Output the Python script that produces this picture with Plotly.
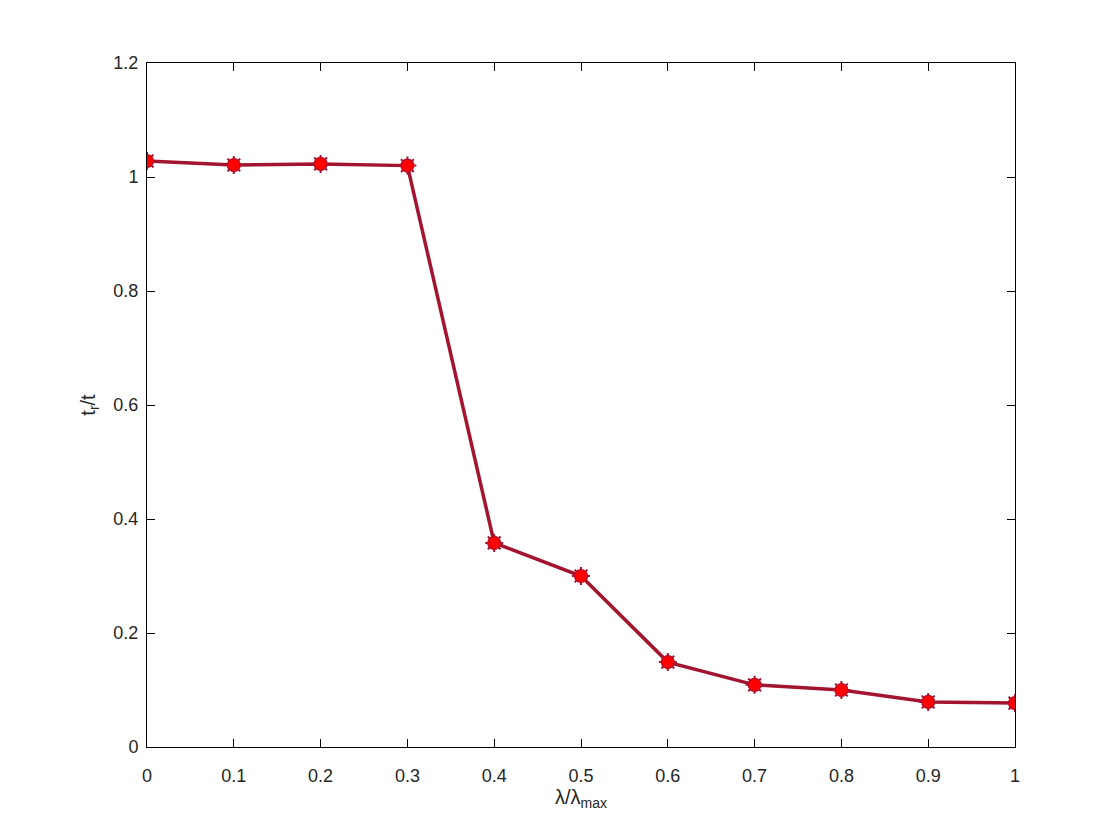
import plotly.graph_objects as go

lam_ratio = [0, 0.1, 0.2, 0.3, 0.4, 0.5, 0.6, 0.7, 0.8, 0.9, 1.0]
tr_ratio = [1.028, 1.021, 1.023, 1.020, 0.358, 0.300, 0.149, 0.109, 0.100, 0.079, 0.077]

x_ticks = [0, 0.1, 0.2, 0.3, 0.4, 0.5, 0.6, 0.7, 0.8, 0.9, 1]
x_labels = ['0', '0.1', '0.2', '0.3', '0.4', '0.5', '0.6', '0.7', '0.8', '0.9', '1']
y_ticks = [0, 0.2, 0.4, 0.6, 0.8, 1.0, 1.2]
y_labels = ['0', '0.2', '0.4', '0.6', '0.8', '1', '1.2']

FONT = 'Liberation Sans, Arial, Helvetica, sans-serif'

fig = go.Figure()
fig.add_trace(go.Scatter(
    x=lam_ratio, y=tr_ratio, mode='lines+markers',
    line=dict(color='#A2142F', width=3.5),
    marker=dict(symbol='asterisk-open', size=15, color='#A2142F',
                line=dict(color='#A2142F', width=2)),
    showlegend=False,
))
fig.add_trace(go.Scatter(
    x=lam_ratio, y=tr_ratio, mode='markers',
    marker=dict(symbol='circle', size=13, color='#FF0000',
                line=dict(color='#B0102A', width=1.2)),
    showlegend=False,
))

axis_common = dict(
    showline=True, linecolor='black', linewidth=1, mirror='ticks',
    ticks='inside', ticklen=8, tickcolor='black',
    showgrid=False, zeroline=False,
    tickfont=dict(family=FONT, size=18, color='#262626'),
)

fig.update_xaxes(range=[0, 1], tickvals=x_ticks, ticktext=x_labels,
                 ticklabelstandoff=12,
                 title=dict(text='λ/λ<sub>max</sub>', standoff=2,
                            font=dict(family=FONT, size=20, color='#262626')),
                 **axis_common)
fig.update_yaxes(range=[0, 1.2], tickvals=y_ticks, ticktext=y_labels,
                 ticklabelstandoff=4,
                 title=dict(text='t<sub>r</sub>/t', standoff=12,
                            font=dict(family=FONT, size=20, color='#262626')),
                 **axis_common)

fig.update_layout(
    width=1120, height=840,
    margin=dict(l=139, r=113, t=55, b=101),
    plot_bgcolor='white', paper_bgcolor='white',
)

fig.write_html("out.html")
